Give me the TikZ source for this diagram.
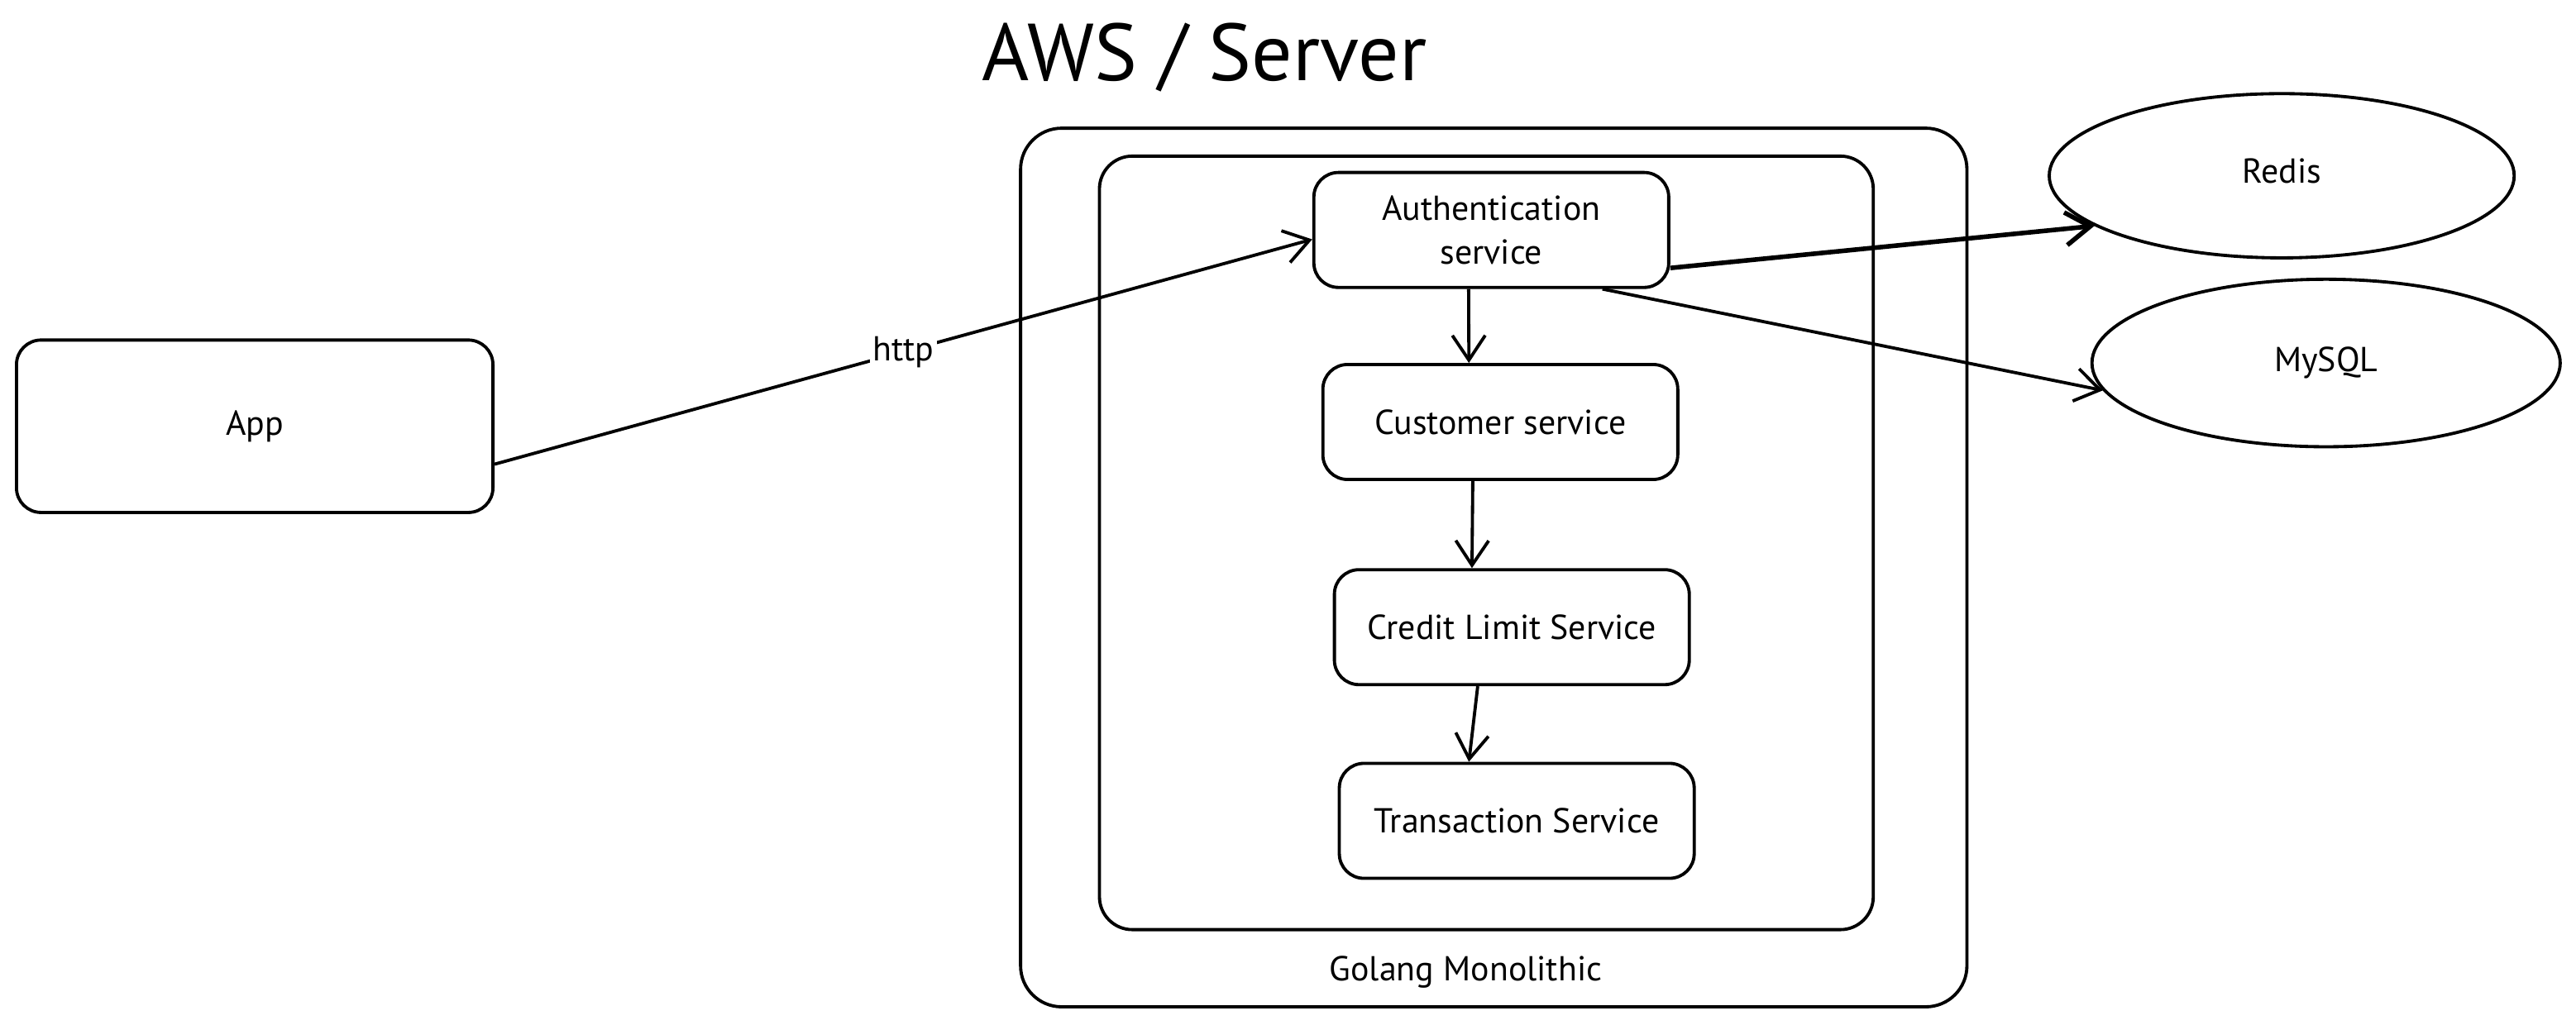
\documentclass[tikz,border=0pt]{standalone}
\usepackage{fontspec}
\setmainfont{PT Sans}
\usetikzlibrary{shapes}
\usetikzlibrary{positioning}
\usetikzlibrary{arrows.meta}

\begin{document}
\begin{tikzpicture}[x=0.02cm, y=-0.02cm, line width=1.1pt,
    svc/.style={draw, rounded corners=0.3cm, minimum width=4.32cm, minimum height=1.4cm, align=center, font=\fontsize{12}{15}\selectfont},
    db/.style={draw, ellipse, minimum width=5.66cm, minimum height=2cm, font=\fontsize{12}{15}\selectfont},
    arr/.style={-{Straight Barb[length=0.3cm, width=0.4cm]}}]

    \fill[white] (0,0) rectangle (1567.6,624);
    \useasboundingbox (0,0) rectangle (1567.6,624);

    % containers
    \node(Server)[draw, rounded corners=0.5cm, inner sep=0pt, minimum width=11.52cm, minimum height=10.7cm] at (909,345.5) {};
    \node(Mono)[draw, rounded corners=0.4cm, inner sep=0pt, minimum width=9.42cm, minimum height=9.42cm] at (904.5,330.5) {};
    \node(Title)[font=\fontsize{28}{32}\selectfont] at (733,35) {AWS / Server};
    \node(Golang)[font=\fontsize{12}{15}\selectfont] at (892,592) {Golang Monolithic};

    % services
    \node(Auth)[svc] at (907.5,140) {Authentication\\service};
    \node(Cust)[svc, below=0.9cm of Auth, xshift=0.11cm]{Customer service};
    \node(Credit)[svc, below=1.06cm of Cust, xshift=0.14cm]{Credit Limit Service};
    \node(Trans)[svc, below=0.92cm of Credit, xshift=0.06cm]{Transaction Service};

    \node(App)[svc, minimum width=5.8cm, minimum height=2.1cm] at (155,259.5) {App};
    \node(Redis)[db] at (1388.5,107) {\raisebox{0.12cm}{Redis}};
    \node(MySQL)[db, minimum width=5.7cm, minimum height=2.04cm] at (1415.5,221) {MySQL};

    \draw[arr] (App.-9) -- node[midway, fill=white, inner sep=1pt, font=\fontsize{12}{15}\selectfont]{http} (Auth.183);
    \draw[arr, line width=1.6pt] (Auth.-12) -- (Redis.195);
    \draw[arr] (Auth.-28) -- (MySQL.187);
    \draw[arr] (Auth.-111) -- (Cust.118);
    \draw[arr] (Cust.-115) -- (Credit.124);
    \draw[arr] (Credit.-120) -- (Trans.129);

\end{tikzpicture}
\end{document}
